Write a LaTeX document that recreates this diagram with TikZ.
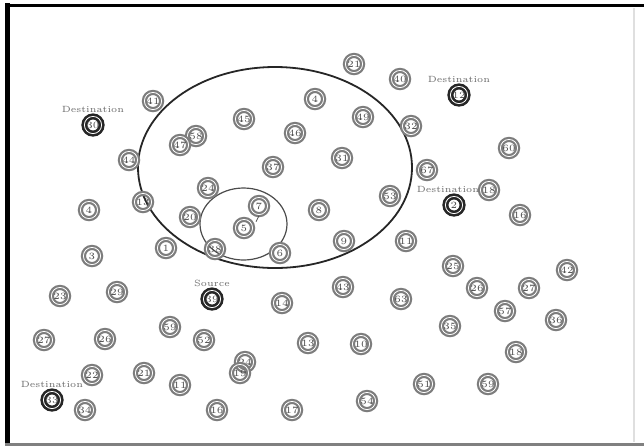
\documentclass[tikz,border=0pt]{standalone}
\usepackage{tikz}
\usetikzlibrary{positioning}
\definecolor{ringgray}{RGB}{125,125,125}
\definecolor{labelgray}{RGB}{105,105,105}
\tikzset{
  mote/.style={circle, draw=ringgray, line width=1.1pt, double=white, double distance=0.4pt,
    inner sep=0pt, minimum size=8.6pt, font=\fontsize{4.8}{4.8}\selectfont, text=black!70},
  sink/.style={mote, draw=black!85, line width=1.3pt},
  tag/.style={font=\fontsize{4.5}{4.5}\selectfont, text=labelgray, inner sep=0.5pt},
}
\begin{document}
\begin{tikzpicture}[x=0.5pt, y=-0.5pt]
  \useasboundingbox (0,0) rectangle (644,447);
  \fill[white] (0,0) rectangle (644,447);

  % frame
  \draw[black, line width=2.5pt] (7.5,3) -- (7.5,445);
  \draw[black, line width=1.8pt] (5,5.5) -- (644,5.5);
  \draw[gray, line width=1.5pt] (5,444) -- (644,444);
  \draw[gray!25, line width=0.6pt] (634,8) -- (634,442);

  % range circles
  \draw[black!85, line width=0.9pt] (275,167.5) ellipse [x radius=137, y radius=100.5];
  \draw[black!70, line width=0.6pt] (243.5,224) ellipse [x radius=43.5, y radius=36];

  % ordinary nodes
  \foreach \x/\y/\t/\n in {
      354/64/21/a21, 400/79/40/a40, 153/101/41/a41, 315/99/4/a4b,
      244/119/45/a45, 363/117/49/a49, 411/126/32/a32, 196/136/58/a58,
      180/145/47/a47, 295/133/46/a46, 509/148/60/a60, 129/160/44/a44,
      273/167/37/a37, 342/158/31/a31, 427/170/67/a67, 208/188/24/a24,
      390/196/53/a53, 489/190/18/a18, 520/215/16/a16, 89/210/4/a4,
      143/202/13/a13, 190/217/20/a20, 259/206/7/a7, 244/228/5/a5,
      319/210/8/a8, 344/241/9/a9, 406/241/11/a11, 166/248/1/a1,
      215/249/38/a38, 280/253/6/a6, 92/256/3/a3, 453/266/25/a25,
      567/270/42/a42, 343/287/43/a43, 60/296/23/a23, 117/292/29/a29,
      282/303/14/a14, 401/299/63/a63, 477/288/26/a26, 529/288/27/a27,
      505/311/57/a57, 450/326/35/a35, 556/320/36/a36, 170/327/59/a59,
      204/340/52/a52, 44/340/27/b27, 105/339/26/b26, 308/343/13/b13,
      361/344/10/a10, 516/352/18/b18, 245/362/24/b24, 240/373/19/a19,
      92/375/22/a22, 144/373/21/b21, 180/385/11/b11, 85/410/34/a34,
      424/384/51/a51, 488/384/59/b59, 367/401/54/a54, 217/410/16/b16,
      292/410/17/a17}
    \node[mote] (\n) at (\x,\y) {\t};

  % destinations and source
  \node[sink] (d30) at (93,125) {30};
  \node[sink] (d12) at (459,95) {12};
  \node[sink] (d2) at (454,205) {2};
  \node[sink] (d33) at (52,400) {33};
  \node[sink] (s39) at (212,299) {39};

  \node[tag, above=0.5pt of d30] (t30) {Destination};
  \node[tag, above=0.5pt of d12] (t12) {Destination};
  \node[tag, above=0.5pt of d2, xshift=-3pt] (t2) {Destination};
  \node[tag, above=0.5pt of d33] (t33) {Destination};
  \node[tag, above=0.5pt of s39] (ts) {Source};

  % pointer under 7
  \draw[black!70, line width=0.4pt] (a7.south) -- ++(-3,6);
\end{tikzpicture}
\end{document}
